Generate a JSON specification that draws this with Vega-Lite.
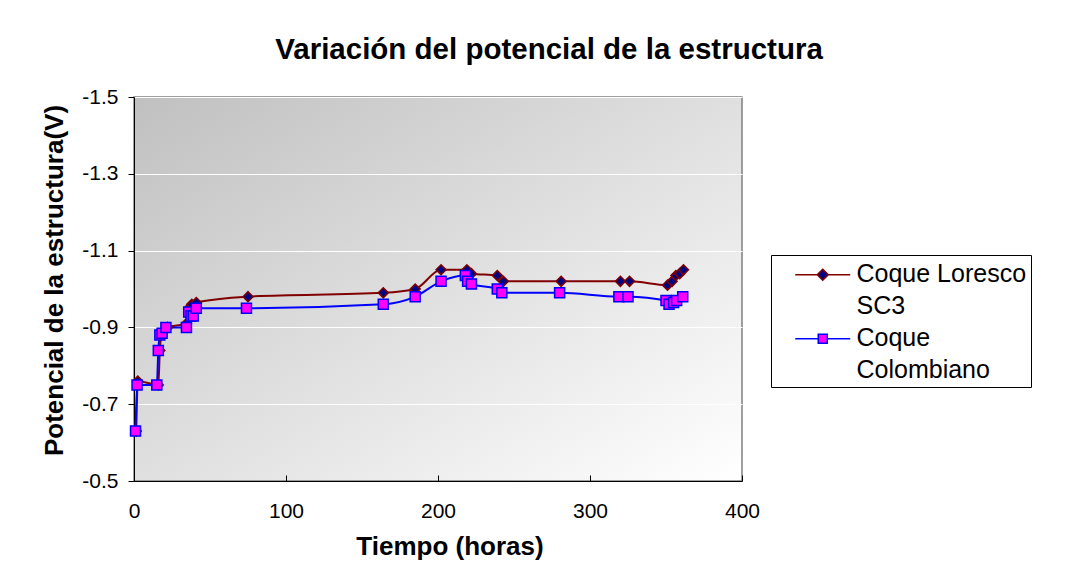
{
  "$schema": "https://vega.github.io/schema/vega-lite/v6.json",
  "autosize": {"type": "none"},
  "width": 608,
  "height": 384,
  "padding": {"left": 134, "top": 97, "right": 336, "bottom": 93},
  "background": "#ffffff",
  "title": {
    "text": "Variación del potencial de la estructura",
    "font": "Liberation Sans",
    "fontSize": 29.5,
    "fontWeight": "bold",
    "color": "#000000",
    "anchor": "middle",
    "frame": "group",
    "dx": 111,
    "baseline": "alphabetic",
    "offset": -2
  },
  "datasets": {
    "pot": [
      {"series": "Coque Loresco SC3", "hours": 1.5, "V": -0.63},
      {"series": "Coque Loresco SC3", "hours": 2.5, "V": -0.76},
      {"series": "Coque Loresco SC3", "hours": 16, "V": -0.75},
      {"series": "Coque Loresco SC3", "hours": 17, "V": -0.84},
      {"series": "Coque Loresco SC3", "hours": 18, "V": -0.88},
      {"series": "Coque Loresco SC3", "hours": 19.5, "V": -0.89},
      {"series": "Coque Loresco SC3", "hours": 22, "V": -0.9},
      {"series": "Coque Loresco SC3", "hours": 34.5, "V": -0.91},
      {"series": "Coque Loresco SC3", "hours": 36, "V": -0.95},
      {"series": "Coque Loresco SC3", "hours": 38, "V": -0.96},
      {"series": "Coque Loresco SC3", "hours": 41, "V": -0.965},
      {"series": "Coque Loresco SC3", "hours": 75, "V": -0.98},
      {"series": "Coque Loresco SC3", "hours": 164, "V": -0.99},
      {"series": "Coque Loresco SC3", "hours": 185, "V": -1.0},
      {"series": "Coque Loresco SC3", "hours": 202, "V": -1.05},
      {"series": "Coque Loresco SC3", "hours": 219, "V": -1.05},
      {"series": "Coque Loresco SC3", "hours": 222, "V": -1.04},
      {"series": "Coque Loresco SC3", "hours": 239, "V": -1.035},
      {"series": "Coque Loresco SC3", "hours": 243, "V": -1.02},
      {"series": "Coque Loresco SC3", "hours": 281, "V": -1.02},
      {"series": "Coque Loresco SC3", "hours": 320, "V": -1.02},
      {"series": "Coque Loresco SC3", "hours": 326, "V": -1.02},
      {"series": "Coque Loresco SC3", "hours": 351, "V": -1.01},
      {"series": "Coque Loresco SC3", "hours": 354, "V": -1.02},
      {"series": "Coque Loresco SC3", "hours": 356.5, "V": -1.035},
      {"series": "Coque Loresco SC3", "hours": 359, "V": -1.04},
      {"series": "Coque Loresco SC3", "hours": 361.5, "V": -1.05},
      {"series": "Coque Colombiano", "hours": 1, "V": -0.63},
      {"series": "Coque Colombiano", "hours": 2, "V": -0.75},
      {"series": "Coque Colombiano", "hours": 15, "V": -0.75},
      {"series": "Coque Colombiano", "hours": 16, "V": -0.84},
      {"series": "Coque Colombiano", "hours": 17, "V": -0.88},
      {"series": "Coque Colombiano", "hours": 18.5, "V": -0.885},
      {"series": "Coque Colombiano", "hours": 21, "V": -0.9},
      {"series": "Coque Colombiano", "hours": 34.5, "V": -0.9},
      {"series": "Coque Colombiano", "hours": 36, "V": -0.94},
      {"series": "Coque Colombiano", "hours": 37.5, "V": -0.93},
      {"series": "Coque Colombiano", "hours": 39, "V": -0.93},
      {"series": "Coque Colombiano", "hours": 41, "V": -0.95},
      {"series": "Coque Colombiano", "hours": 74, "V": -0.95},
      {"series": "Coque Colombiano", "hours": 164, "V": -0.96},
      {"series": "Coque Colombiano", "hours": 185, "V": -0.98},
      {"series": "Coque Colombiano", "hours": 202, "V": -1.02},
      {"series": "Coque Colombiano", "hours": 218, "V": -1.035},
      {"series": "Coque Colombiano", "hours": 219.5, "V": -1.02},
      {"series": "Coque Colombiano", "hours": 222, "V": -1.013},
      {"series": "Coque Colombiano", "hours": 239, "V": -1.0},
      {"series": "Coque Colombiano", "hours": 242, "V": -0.99},
      {"series": "Coque Colombiano", "hours": 280, "V": -0.99},
      {"series": "Coque Colombiano", "hours": 319, "V": -0.98},
      {"series": "Coque Colombiano", "hours": 325, "V": -0.98},
      {"series": "Coque Colombiano", "hours": 350, "V": -0.97},
      {"series": "Coque Colombiano", "hours": 352, "V": -0.96},
      {"series": "Coque Colombiano", "hours": 355, "V": -0.965},
      {"series": "Coque Colombiano", "hours": 357, "V": -0.97},
      {"series": "Coque Colombiano", "hours": 361, "V": -0.98}
    ]
  },
  "data": {"name": "pot"},
  "encoding": {
    "x": {
      "field": "hours",
      "type": "quantitative",
      "scale": {"domain": [0, 400], "nice": false, "zero": false},
      "axis": {
        "title": "Tiempo (horas)",
        "values": [0, 100, 200, 300, 400],
        "grid": false,
        "labelFlush": false,
        "tickSize": -6,
        "labelPadding": 25,
        "titleX": 315.5,
        "titleY": 73,
        "titleBaseline": "alphabetic",
        "titleAlign": "center"
      }
    },
    "y": {
      "field": "V",
      "type": "quantitative",
      "scale": {"domain": [-1.5, -0.5], "reverse": true, "nice": false, "zero": false},
      "axis": {
        "title": "Potencial de la estructura(V)",
        "values": [-1.5, -1.3, -1.1, -0.9, -0.7, -0.5],
        "format": ".1f",
        "grid": true,
        "gridColor": "#ffffff",
        "gridWidth": 1,
        "gridOpacity": 1,
        "labelFlush": false,
        "tickSize": 6,
        "labelPadding": 10,
        "titleX": -72,
        "titleY": 183,
        "titleAngle": -90,
        "titleBaseline": "alphabetic",
        "titleAlign": "center"
      }
    }
  },
  "layer": [
    {
      "mark": {"type": "line", "strokeWidth": 2, "interpolate": "monotone"},
      "encoding": {
        "color": {
          "field": "series",
          "type": "nominal",
          "scale": {"domain": ["Coque Loresco SC3", "Coque Colombiano"], "range": ["#800000", "#0000ff"]},
          "legend": null
        }
      }
    },
    {
      "mark": {"type": "point", "filled": true, "size": 100, "strokeWidth": 1.5, "opacity": 1},
      "encoding": {
        "shape": {
          "field": "series",
          "type": "nominal",
          "scale": {"domain": ["Coque Loresco SC3", "Coque Colombiano"], "range": ["diamond", "square"]},
          "legend": null
        },
        "fill": {
          "field": "series",
          "type": "nominal",
          "scale": {"domain": ["Coque Loresco SC3", "Coque Colombiano"], "range": ["#000080", "#ff00ff"]},
          "legend": null
        },
        "stroke": {
          "field": "series",
          "type": "nominal",
          "scale": {"domain": ["Coque Loresco SC3", "Coque Colombiano"], "range": ["#800000", "#0000ff"]},
          "legend": null
        }
      }
    },
    {
      "transform": [{"filter": "false"}],
      "mark": {"type": "point", "filled": true, "size": 784, "strokeWidth": 1.5, "opacity": 1},
      "encoding": {
        "shape": {
          "field": "series",
          "type": "nominal",
          "scale": {
            "domain": ["Coque Loresco\u00a0", "SC3", "Coque", "Colombiano"],
            "range": [
              "M0.232,0.05H1.803M2.589,0.05H4.16M2.196,-0.343L2.589,0.05L2.196,0.443L1.803,0.05Z",
              "M0,0",
              "M0.232,0.05H1.875M2.517,0.05H4.16M1.875,-0.271H2.517V0.371H1.875Z",
              "M0,0"
            ]
          },
          "legend": {
            "orient": "none",
            "legendX": 637,
            "legendY": 158,
            "title": null,
            "padding": 4,
            "strokeColor": "#000000",
            "fillColor": "#ffffff",
            "labelFont": "Liberation Sans",
            "labelFontSize": 25,
            "labelColor": "#000000",
            "labelLimit": 0,
            "labelOffset": 49.5,
            "labelBaseline": "middle",
            "rowPadding": 4,
            "symbolSize": 784,
            "symbolStrokeWidth": 1.5,
            "symbolOpacity": 1,
            "symbolOffset": 2
          }
        },
        "fill": {
          "field": "series",
          "type": "nominal",
          "scale": {"domain": ["Coque Loresco\u00a0", "SC3", "Coque", "Colombiano"], "range": ["#000080", "#000080", "#ff00ff", "#ff00ff"]}
        },
        "stroke": {
          "field": "series",
          "type": "nominal",
          "scale": {"domain": ["Coque Loresco\u00a0", "SC3", "Coque", "Colombiano"], "range": ["#800000", "#800000", "#0000ff", "#0000ff"]}
        }
      }
    }
  ],
  "resolve": {"scale": {"shape": "independent", "fill": "independent", "stroke": "independent"}},
  "config": {
    "locale": {"number": {"decimal": ".", "thousands": ",", "grouping": [3], "currency": ["$", ""], "minus": "-"}},
    "view": {
      "stroke": "#808080",
      "strokeWidth": 1.5,
      "fill": {
        "gradient": "linear",
        "x1": 0, "y1": 0, "x2": 1, "y2": 1,
        "stops": [{"offset": 0, "color": "#c0c0c0"}, {"offset": 1, "color": "#ffffff"}]
      }
    },
    "axis": {
      "labelFont": "Liberation Sans",
      "labelFontSize": 21,
      "labelColor": "#000000",
      "titleFont": "Liberation Sans",
      "titleFontSize": 26,
      "titleFontWeight": "bold",
      "titleColor": "#000000",
      "domainColor": "#000000",
      "domainWidth": 1,
      "tickColor": "#000000",
      "tickWidth": 1
    }
  }
}
